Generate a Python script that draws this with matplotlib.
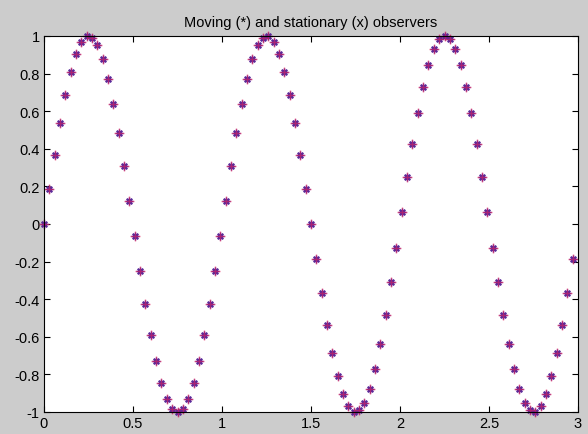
import matplotlib
matplotlib.use("Agg")
import matplotlib.pyplot as plt

t_values = [0.00, 0.03, 0.06, 0.09, 0.12, 0.15, 0.18, 0.21, 0.24, 0.27,
            0.30, 0.33, 0.36, 0.39, 0.42, 0.45, 0.48, 0.51, 0.54, 0.57,
            0.60, 0.63, 0.66, 0.69, 0.72, 0.75, 0.78, 0.81, 0.84, 0.87,
            0.90, 0.93, 0.96, 0.99, 1.02, 1.05, 1.08, 1.11, 1.14, 1.17,
            1.20, 1.23, 1.26, 1.29, 1.32, 1.35, 1.38, 1.41, 1.44, 1.47,
            1.50, 1.53, 1.56, 1.59, 1.62, 1.65, 1.68, 1.71, 1.74, 1.77,
            1.80, 1.83, 1.86, 1.89, 1.92, 1.95, 1.98, 2.01, 2.04, 2.07,
            2.10, 2.13, 2.16, 2.19, 2.22, 2.25, 2.28, 2.31, 2.34, 2.37,
            2.40, 2.43, 2.46, 2.49, 2.52, 2.55, 2.58, 2.61, 2.64, 2.67,
            2.70, 2.73, 2.76, 2.79, 2.82, 2.85, 2.88, 2.91, 2.94, 2.97]

moving_values = [0.000, 0.187, 0.368, 0.536, 0.685, 0.809, 0.905, 0.969, 0.998, 0.992,
                 0.951, 0.876, 0.771, 0.637, 0.482, 0.309, 0.125, -0.063, -0.249, -0.426,
                 -0.588, -0.729, -0.844, -0.930, -0.982, -1.000, -0.982, -0.930, -0.844, -0.729,
                 -0.588, -0.426, -0.249, -0.063, 0.125, 0.309, 0.482, 0.637, 0.771, 0.876,
                 0.951, 0.992, 0.998, 0.969, 0.905, 0.809, 0.685, 0.536, 0.368, 0.187,
                 0.000, -0.187, -0.368, -0.536, -0.685, -0.809, -0.905, -0.969, -0.998, -0.992,
                 -0.951, -0.876, -0.771, -0.637, -0.482, -0.309, -0.125, 0.063, 0.249, 0.426,
                 0.588, 0.729, 0.844, 0.930, 0.982, 1.000, 0.982, 0.930, 0.844, 0.729,
                 0.588, 0.426, 0.249, 0.063, -0.125, -0.309, -0.482, -0.637, -0.771, -0.876,
                 -0.951, -0.992, -0.998, -0.969, -0.905, -0.809, -0.685, -0.536, -0.368, -0.187]

stationary_values = list(moving_values)

x_ticks = [0, 0.5, 1, 1.5, 2, 2.5, 3]
x_tick_labels = ["0", "0.5", "1", "1.5", "2", "2.5", "3"]
y_ticks = [-1, -0.8, -0.6, -0.4, -0.2, 0, 0.2, 0.4, 0.6, 0.8, 1]
y_tick_labels = ["-1", "-0.8", "-0.6", "-0.4", "-0.2", "0", "0.2", "0.4", "0.6", "0.8", "1"]
title_text = "Moving (*) and stationary (x) observers"

plt.rcParams['font.family'] = ['Liberation Sans', 'DejaVu Sans']

fig = plt.figure(figsize=(5.88, 4.35), dpi=100, facecolor='#cccccc')
ax = fig.add_axes([44/588, 22/435, 534/588, 376/435])
ax.set_facecolor('white')

ax.plot(t_values, moving_values, linestyle='none', marker=(8, 2, 0),
        markersize=5.5, markeredgewidth=1.0, color='#5a2a9a', clip_on=False)
ax.plot(t_values, stationary_values, linestyle='none', marker='+',
        markersize=7.5, markeredgewidth=1.0, color='#e0205a', alpha=0.6, clip_on=False)

ax.set_xlim(0, 3)
ax.set_ylim(-1, 1)
ax.set_xticks(x_ticks)
ax.set_xticklabels(x_tick_labels)
ax.set_yticks(y_ticks)
ax.set_yticklabels(y_tick_labels)
ax.tick_params(direction='in', top=True, right=True, length=4, width=0.8,
               labelsize=10.5, colors='black', pad=3)
for s in ax.spines.values():
    s.set_linewidth(0.8)
    s.set_color('black')
ax.set_title(title_text, fontsize=10.5, pad=7)

fig.savefig('out.png', dpi=100, facecolor=fig.get_facecolor())
